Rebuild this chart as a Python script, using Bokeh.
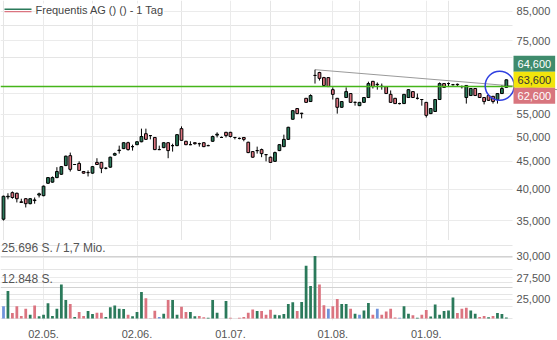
from bokeh.plotting import figure
from bokeh.models import (Range1d, FixedTicker, Label, BoxAnnotation, Grid)
from bokeh.core.properties import value
from bokeh.layouts import column
from bokeh.embed import file_html
from bokeh.resources import INLINE

# ---------------- data ----------------
opens = [35.2, 38.7, 39.4, 39.3, 37.9, 38.4, 37.6, 38.1, 39.0, 38.9,
         41.0, 41.2, 42.0, 42.6, 44.2, 46.1, 44.4, 44.6, 43.1, 42.9,
         42.8, 44.8, 44.8, 43.7, 43.9, 46.2, 47.1, 47.5, 48.7, 47.9,
         48.3, 48.9, 50.6, 50.2, 49.8, 47.3, 47.7, 48.7, 48.1, 48.1,
         51.7, 49.0, 48.3, 48.7, 48.5, 48.7, 48.1, 49.0, 50.3, 49.8,
         50.9, 50.9, 49.8, 49.6, 49.8, 48.8, 46.9, 47.1, 47.3, 46.3,
         45.8, 45.0, 47.1, 47.9, 49.4, 53.8, 56.3, 55.2, 58.8, 58.0,
         64.8, 65.6, 64.2, 64.2, 61.0, 58.8, 56.6, 59.0, 60.0, 57.8,
         57.0, 57.8, 59.0, 63.2, 62.4, 61.9, 61.8, 59.8, 58.8, 57.5,
         57.5, 59.0, 60.5, 58.8, 58.5, 57.8, 55.1, 55.6, 58.5, 62.6,
         62.6, 62.3, 62.4, 61.8, 59.0, 59.5, 61.3, 60.0, 59.0, 59.5,
         59.3, 58.5, 60.0, 61.6]
highs = [38.9, 39.3, 39.6, 39.4, 38.4, 38.5, 38.5, 38.6, 39.4, 40.6,
         42.1, 42.2, 43.9, 44.1, 46.1, 46.7, 44.5, 45.0, 43.2, 43.3,
         44.1, 45.6, 44.9, 43.9, 45.9, 46.7, 48.1, 48.8, 48.9, 48.3,
         49.0, 51.7, 51.7, 50.3, 49.9, 48.1, 48.8, 48.8, 48.5, 50.5,
         52.2, 49.1, 49.0, 48.8, 48.7, 48.8, 48.3, 50.2, 50.9, 50.0,
         51.0, 51.0, 49.9, 49.8, 49.9, 48.9, 47.0, 47.9, 47.5, 46.4,
         45.9, 46.9, 48.4, 50.4, 52.1, 55.9, 56.4, 55.3, 58.9, 59.8,
         66.4, 65.8, 64.4, 64.3, 61.6, 58.9, 58.1, 61.6, 60.1, 58.0,
         57.9, 59.1, 63.1, 63.3, 62.9, 62.6, 61.9, 60.8, 58.9, 57.7,
         59.9, 61.1, 60.6, 60.0, 58.6, 57.9, 56.4, 58.6, 62.9, 62.7,
         62.9, 62.5, 62.6, 62.1, 62.2, 61.4, 61.4, 60.1, 59.1, 59.6,
         59.4, 60.1, 62.1, 63.7]
lows = [35.0, 38.3, 38.4, 37.8, 37.8, 37.0, 37.5, 37.6, 38.6, 38.8,
        40.9, 41.1, 41.9, 42.5, 44.1, 43.1, 44.3, 43.2, 42.7, 42.2,
        42.7, 44.3, 42.8, 43.5, 43.8, 46.1, 46.5, 47.4, 47.1, 47.1,
        48.2, 48.8, 49.3, 49.4, 47.2, 47.2, 47.6, 45.6, 46.9, 48.0,
        49.1, 48.2, 48.2, 48.3, 47.9, 47.8, 48.0, 48.9, 49.8, 49.7,
        49.8, 49.8, 49.4, 49.4, 49.0, 46.6, 45.7, 46.5, 45.8, 45.0,
        44.7, 44.9, 47.0, 47.8, 49.3, 53.7, 55.0, 54.0, 57.7, 57.9,
        62.6, 63.4, 62.0, 61.7, 58.5, 55.1, 56.5, 58.9, 57.7, 57.0,
        56.9, 57.7, 58.9, 61.3, 61.0, 61.0, 59.9, 57.7, 57.4, 57.3,
        57.4, 58.9, 58.9, 58.5, 57.0, 54.2, 55.0, 55.5, 58.4, 61.5,
        61.8, 62.1, 61.8, 61.3, 57.5, 59.4, 59.4, 58.9, 57.3, 58.2,
        57.5, 57.5, 59.9, 61.5]
closes = [38.8, 38.8, 38.6, 38.4, 37.8, 37.6, 38.4, 38.2, 39.2, 40.5,
          42.0, 42.0, 43.1, 44.0, 46.0, 43.5, 44.4, 43.3, 42.8, 42.9,
          44.0, 44.4, 43.7, 43.7, 45.8, 46.5, 47.2, 48.7, 47.3, 47.9,
          48.9, 50.0, 49.4, 50.2, 47.3, 47.3, 48.7, 47.1, 48.1, 50.4,
          49.2, 48.3, 48.3, 48.5, 48.5, 47.9, 48.1, 50.0, 50.5, 49.8,
          50.2, 50.0, 49.8, 49.6, 49.4, 46.7, 45.8, 47.1, 46.5, 46.3,
          44.8, 46.7, 48.3, 49.4, 52.0, 55.8, 55.1, 55.1, 57.8, 59.5,
          64.8, 64.0, 62.1, 61.8, 59.8, 56.6, 58.0, 60.5, 57.8, 57.8,
          57.8, 59.0, 62.6, 61.8, 62.3, 61.8, 60.0, 57.8, 57.5, 57.5,
          59.8, 61.0, 59.0, 58.8, 58.5, 54.7, 56.3, 58.5, 62.6, 61.6,
          62.6, 62.3, 62.3, 61.8, 62.1, 61.3, 59.5, 59.0, 58.0, 58.3,
          58.0, 60.0, 61.3, 63.6]
volumes = [5100, 11360, 2290, 5100, 1080, 4015, 1610, 5340, 920, 1610,
           6300, 1080, 4015, 14050, 7630, 6020, 680, 2690, 1080, 3090,
           1890, 2410, 2410, 680, 4700, 5340, 4015, 3890, 1610, 920,
           2690, 10960, 8310, 120, 3210, 680, 2010, 7630, 7630, 1610,
           4820, 2690, 2690, 920, 1080, 520, 280, 7630, 2410, 0,
           7230, 280, 0, 280, 680, 2410, 3730, 3090, 3090, 1610,
           3610, 1610, 1320, 1890, 6020, 6700, 3090, 6830, 21680, 13370,
           25696, 14050, 5500, 4015, 5100, 8030, 6020, 6020, 4015, 2010,
           1610, 3330, 6420, 1610, 4015, 1610, 2930, 4015, 400, 280,
           5100, 2010, 1320, 280, 1610, 3490, 800, 5740, 1610, 3090,
           3330, 8710, 2290, 4015, 4420, 3330, 2010, 680, 1080, 520,
           1080, 2290, 1890, 400]
# g = up, r = down, b = unchanged (close vs. previous close)
volume_dir = list("bgrrrrgrgg" "gggggrgrrg" "grrgggggrg" "ggrrrbgrgg"
                  "rrggrrgggg" "grgrrrrgrr" "rgggggrggg" "grrbrrggrg"
                  "bggrbrrrrb" "ggrgrrgggg" "ggrrrggrrg" "rggg")

date_tick_index = [9, 30, 51, 74, 95]
date_tick_labels = ["02.05.", "02.06.", "01.07.", "01.08.", "01.09."]
price_ticks = [35, 40, 45, 50, 55, 60, 75, 85]
vol_axis_ticks = [25.0, 27.5, 30.0]
vol_ref_levels = [25696, 12848]
vol_ref_labels = ["25.696 S. / 1,7 Mio.", "12.848 S."]
last_price = 63.6
badge_values = [64.6, 63.6, 62.6]
hline_level = 61.8
trend_x = [70, 124.5]
trend_y = [66.4, 61.0]
marker_x = [111.5]
marker_y = [62.0]
title_text = "Frequentis AG () () - 1 Tag"

# ---------------- styling / layout ----------------
FONT = "Liberation Sans"
GREEN = "#2b7a5b"
RED = "#db7480"
BLUE = "#6f93db"
GRID = "#ebebeb"
TXT = "#555555"
n = len(closes)
idx = list(range(n))
x_start, x_end = -0.674, 124.49     # whole 557 px canvas width
x_plot_end = 114.38                 # right edge of the chart area (512 px)
x_label = 115.3                     # where the price labels start


def fmt3(v):
    return f"{v:.3f}".replace(".", ",")


p = figure(width=557, height=240, x_range=Range1d(x_start, x_end),
           y_range=Range1d(32.16, 89.06), y_axis_type="log",
           x_axis_location=None, y_axis_location=None,
           output_backend="svg", toolbar_location=None,
           min_border_left=0, min_border_right=0, min_border_top=0, min_border_bottom=0)
p.outline_line_color = None
p.add_layout(Grid(dimension=1, ticker=FixedTicker(ticks=price_ticks), grid_line_color=GRID))
p.add_layout(Grid(dimension=0, ticker=FixedTicker(ticks=date_tick_index), grid_line_color=GRID))
p.add_layout(BoxAnnotation(left=x_plot_end, fill_color="white", fill_alpha=1,
                           line_color=None, level="underlay"))

p.text(x=[x_label] * len(price_ticks), y=price_ticks, text=[fmt3(t) for t in price_ticks],
       text_font=value(FONT), text_font_size="11px", text_color=TXT,
       text_align="left", text_baseline="middle")

# trend line
p.line(trend_x, trend_y, line_color="#9a9a9a", line_width=1)

# candles
up = [c >= o for o, c in zip(opens, closes)]
p.segment(x0=idx, y0=lows, x1=idx, y1=highs, line_color="black", line_width=1)
p.vbar(x=idx, top=[max(o, c) for o, c in zip(opens, closes)],
       bottom=[min(o, c) for o, c in zip(opens, closes)], width=0.62,
       fill_color=[GREEN if u else RED for u in up], line_color="black", line_width=1)

# horizontal level line
p.line([x_start, x_plot_end], [hline_level, hline_level], line_color="#45b51a", line_width=1.5)

p.scatter(x=marker_x, y=marker_y, marker="circle", size=29, fill_color=None,
          line_color="#2f3fe0", line_width=1.5)

# price badges
badge_style = [("#3f8b6c", "white", 16), ("#f2e40c", "#333333", 0), ("#d8757e", "white", -16)]
for val, (bg, tc, off) in zip(badge_values, badge_style):
    p.add_layout(Label(x=x_plot_end, y=last_price, x_offset=1, y_offset=off, text=fmt3(val),
                       text_align="left", text_baseline="middle", text_font=FONT,
                       text_font_size="11px", text_color=tc, background_fill_color=bg,
                       padding=4))

# legend
p.add_layout(Label(x=35, y=231, x_units="screen", y_units="screen", text=title_text,
                   text_font=FONT, text_font_size="11px", text_color="#444444",
                   text_baseline="middle", background_fill_color="white"))
p.add_layout(BoxAnnotation(left=4, right=31, top=232, bottom=230.6, left_units="screen",
                           right_units="screen", top_units="screen", bottom_units="screen",
                           fill_color=GREEN, fill_alpha=1, line_color=None))
p.add_layout(BoxAnnotation(left=4, right=31, top=229.6, bottom=228.2, left_units="screen",
                           right_units="screen", top_units="screen", bottom_units="screen",
                           fill_color=RED, fill_alpha=1, line_color=None))

# ---------------- volume ----------------
v = figure(width=557, height=100, x_range=p.x_range, y_range=Range1d(-803, 32120),
           y_axis_location=None, output_backend="svg", toolbar_location=None,
           min_border_left=0, min_border_right=0, min_border_top=0, min_border_bottom=18)
v.outline_line_color = None
v.extra_y_ranges = {"vr": Range1d(22.5, 31.82)}
v.xaxis.ticker = FixedTicker(ticks=date_tick_index)
v.xaxis.major_label_overrides = dict(zip(date_tick_index, date_tick_labels))
v.xaxis.axis_line_color = None
v.xaxis.major_tick_line_color = None
v.xaxis.minor_tick_line_color = None
v.xaxis.major_label_standoff = 3
v.xaxis.major_label_text_font = FONT
v.xaxis.major_label_text_font_size = "11px"
v.xaxis.major_label_text_color = TXT
v.xgrid.grid_line_color = GRID
v.add_layout(Grid(dimension=1, ticker=FixedTicker(ticks=vol_axis_ticks), y_range_name="vr",
                  grid_line_color=GRID))
v.add_layout(Grid(dimension=1, ticker=FixedTicker(ticks=vol_ref_levels), grid_line_color="#d2d2d2"))
v.add_layout(BoxAnnotation(left=x_plot_end, fill_color="white", fill_alpha=1,
                           line_color=None, level="underlay"))

v.text(x=[x_label] * len(vol_axis_ticks), y=vol_axis_ticks, text=[fmt3(t) for t in vol_axis_ticks],
       y_range_name="vr", text_font=value(FONT), text_font_size="11px", text_color=TXT,
       text_align="left", text_baseline="middle")

cmap = {"g": GREEN, "r": RED, "b": BLUE}
v.vbar(x=idx, top=volumes, bottom=0, width=0.62,
       fill_color=[cmap[c] for c in volume_dir], line_color=None)

for lev, txt in zip(vol_ref_levels, vol_ref_labels):
    v.add_layout(Label(x=x_start, y=lev, x_offset=1, y_offset=1, text=txt,
                       text_align="left", text_baseline="bottom", text_font=FONT,
                       text_font_size="12px", text_color=TXT))

layout = column(p, v, spacing=0)
open("out.html", "w").write(file_html(layout, INLINE))
